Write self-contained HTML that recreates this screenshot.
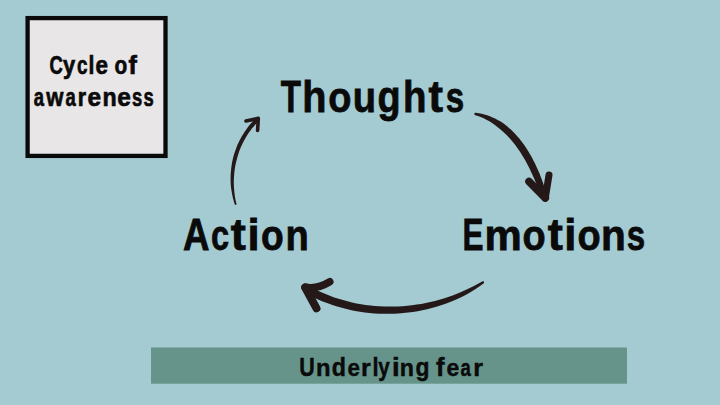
<!DOCTYPE html>
<html><head><meta charset="utf-8">
<style>
html,body{margin:0;padding:0;}
body{width:720px;height:405px;position:relative;overflow:hidden;background:#a4cad2;}
svg{position:absolute;left:0;top:0;}
text{font-family:"Liberation Sans",sans-serif;font-weight:bold;}
</style></head><body>
<svg width="720" height="405" viewBox="0 0 720 405">
<rect x="27.6" y="18.1" width="137.9" height="137.8" fill="#e8e6e7" stroke="#0a0a0a" stroke-width="4.3"/>
<rect x="151" y="347.5" width="476" height="36.2" fill="#66948b"/>
<g font-size="45" fill="#0a0a0a" stroke="#0a0a0a" stroke-width="0.8"><text transform="translate(280.63 111.90) scale(0.736 1.000)">T</text><text transform="translate(302.23 111.90) scale(0.881 1.000)">h</text><text transform="translate(328.22 111.90) scale(0.843 0.960)">o</text><text transform="translate(352.64 111.90) scale(0.847 0.960)">u</text><text transform="translate(377.55 111.90) scale(0.840 1.000)">g</text><text transform="translate(402.92 111.90) scale(0.854 1.000)">h</text><text transform="translate(428.47 111.90) scale(0.965 1.000)">t</text><text transform="translate(445.74 111.90) scale(0.736 0.960)">s</text></g>
<g font-size="45" fill="#0a0a0a" stroke="#0a0a0a" stroke-width="0.8"><text transform="translate(462.61 249.90) scale(0.700 1.000)">E</text><text transform="translate(484.44 249.90) scale(0.931 0.955)">m</text><text transform="translate(522.62 249.90) scale(0.843 0.955)">o</text><text transform="translate(547.65 249.90) scale(1.008 1.000)">t</text><text transform="translate(564.25 249.90) scale(0.972 1.000)">i</text><text transform="translate(577.52 249.90) scale(0.843 0.955)">o</text><text transform="translate(601.02 249.90) scale(0.902 0.955)">n</text><text transform="translate(626.64 249.90) scale(0.736 0.955)">s</text></g>
<g font-size="45" fill="#0a0a0a" stroke="#0a0a0a" stroke-width="0.8"><text transform="translate(183.09 250.00) scale(0.815 1.000)">A</text><text transform="translate(210.93 250.00) scale(0.724 0.960)">c</text><text transform="translate(230.75 250.00) scale(1.008 1.000)">t</text><text transform="translate(247.55 250.00) scale(0.972 1.000)">i</text><text transform="translate(260.95 250.00) scale(0.826 0.960)">o</text><text transform="translate(285.39 250.00) scale(0.847 0.960)">n</text></g>
<g font-size="26.3" fill="#0a0a0a" stroke="#0a0a0a" stroke-width="0.7"><text transform="translate(49.48 74.00) scale(0.700 1.000)">C</text><text transform="translate(62.98 74.00) scale(0.833 1.000)">y</text><text transform="translate(77.01 74.00) scale(0.717 0.960)">c</text><text transform="translate(88.47 74.00) scale(0.804 1.000)">l</text><text transform="translate(95.38 74.00) scale(0.850 0.960)">e</text><text transform="translate(114.44 74.00) scale(0.792 0.960)">o</text><text transform="translate(128.62 74.00) scale(0.957 1.000)">f</text></g>
<g font-size="26.3" fill="#0a0a0a" stroke="#0a0a0a" stroke-width="0.7"><text transform="translate(33.80 105.70) scale(0.700 0.960)">a</text><text transform="translate(46.21 105.70) scale(0.840 0.960)">w</text><text transform="translate(65.40 105.70) scale(0.700 0.960)">a</text><text transform="translate(77.64 105.70) scale(0.814 0.960)">r</text><text transform="translate(87.50 105.70) scale(0.929 0.960)">e</text><text transform="translate(102.62 105.70) scale(0.882 0.960)">n</text><text transform="translate(117.20 105.70) scale(0.929 0.960)">e</text><text transform="translate(132.03 105.70) scale(0.700 0.960)">s</text><text transform="translate(143.48 105.70) scale(0.700 0.960)">s</text></g>
<g font-size="26.3" fill="#0a0a0a" stroke="#0a0a0a" stroke-width="0.5"><text transform="translate(299.26 376.30) scale(0.816 1.000)">U</text><text transform="translate(315.88 376.30) scale(0.905 0.930)">n</text><text transform="translate(331.80 376.30) scale(0.883 1.000)">d</text><text transform="translate(347.48 376.30) scale(0.850 0.930)">e</text><text transform="translate(361.10 376.30) scale(0.950 0.930)">r</text><text transform="translate(372.62 376.30) scale(0.831 1.000)">l</text><text transform="translate(378.19 376.30) scale(0.784 1.000)">y</text><text transform="translate(392.02 376.30) scale(1.053 1.000)">i</text><text transform="translate(399.72 376.30) scale(0.882 0.930)">n</text><text transform="translate(415.51 376.30) scale(0.869 1.000)">g</text><text transform="translate(436.11 376.30) scale(0.969 1.000)">f</text><text transform="translate(446.45 376.30) scale(0.874 0.930)">e</text><text transform="translate(460.61 376.30) scale(0.706 0.930)">a</text><text transform="translate(473.30 376.30) scale(0.950 0.930)">r</text></g>
<g fill="#251819">
<path d="M475.3 115.3 L478.0 116.1 L480.6 117.1 L483.1 118.1 L485.5 119.3 L487.9 120.5 L490.2 121.8 L492.4 123.3 L494.6 124.8 L496.7 126.4 L498.7 128.0 L500.8 129.7 L502.8 131.4 L504.7 133.2 L506.6 135.0 L508.5 137.0 L510.3 139.0 L512.0 141.0 L513.7 143.1 L515.4 145.3 L517.0 147.5 L518.6 149.7 L520.2 152.0 L521.7 154.4 L523.1 156.7 L524.5 159.1 L525.9 161.5 L527.2 164.0 L528.5 166.5 L529.8 169.0 L530.9 171.5 L532.1 174.0 L533.2 176.5 L534.3 179.0 L535.4 181.5 L536.4 184.0 L537.4 186.5 L538.3 189.0 L539.2 191.5 L540.1 194.0 L540.8 195.1 L541.9 195.9 L543.3 196.1 L544.6 195.7 L545.6 194.7 L546.1 193.4 L545.9 192.0 L545.2 189.5 L544.3 186.9 L543.5 184.3 L542.6 181.7 L541.6 179.1 L540.6 176.5 L539.6 173.8 L538.5 171.2 L537.3 168.5 L536.1 165.9 L534.9 163.3 L533.5 160.7 L532.2 158.1 L530.8 155.6 L529.3 153.0 L527.8 150.5 L526.2 148.1 L524.6 145.6 L522.9 143.2 L521.2 140.9 L519.3 138.6 L517.4 136.4 L515.5 134.3 L513.5 132.2 L511.4 130.1 L509.3 128.2 L507.1 126.3 L504.9 124.5 L502.6 122.8 L500.2 121.3 L497.7 119.9 L495.1 118.6 L492.5 117.4 L489.9 116.3 L487.2 115.3 L484.4 114.5 L481.6 113.8 L478.8 113.2 L475.9 112.7 L475.3 112.7 L474.8 113.0 L474.4 113.4 L474.3 114.0 L474.4 114.6 L474.8 115.0Z"/>
<path d="M482.1 281.4 L478.1 283.8 L473.9 286.0 L469.8 288.1 L465.5 290.1 L461.2 292.0 L456.9 293.7 L452.6 295.4 L448.2 297.0 L443.8 298.4 L439.3 299.8 L434.9 301.0 L430.3 302.1 L425.8 303.0 L421.2 303.9 L416.6 304.6 L412.0 305.3 L407.4 305.8 L402.7 306.2 L398.1 306.4 L393.5 306.6 L388.8 306.6 L384.2 306.5 L379.5 306.2 L374.9 305.9 L370.3 305.5 L365.7 304.9 L361.1 304.2 L356.5 303.4 L352.0 302.4 L347.5 301.3 L343.0 300.1 L338.6 298.8 L334.2 297.4 L329.9 295.8 L325.6 294.1 L321.3 292.3 L317.1 290.3 L313.0 288.2 L308.9 286.0 L307.2 285.5 L305.4 285.8 L304.0 286.9 L303.1 288.4 L303.1 290.2 L303.8 291.8 L305.1 293.0 L309.3 295.3 L313.7 297.5 L318.1 299.5 L322.6 301.4 L327.1 303.1 L331.7 304.8 L336.3 306.2 L340.9 307.6 L345.6 308.8 L350.4 309.9 L355.1 310.9 L359.9 311.7 L364.7 312.4 L369.5 313.0 L374.3 313.4 L379.1 313.7 L384.0 313.8 L388.8 313.8 L393.7 313.7 L398.5 313.5 L403.3 313.1 L408.1 312.6 L412.9 311.9 L417.7 311.2 L422.4 310.3 L427.1 309.2 L431.8 308.1 L436.4 306.7 L441.0 305.3 L445.6 303.7 L450.1 302.1 L454.5 300.2 L458.9 298.3 L463.2 296.2 L467.4 293.9 L471.6 291.5 L475.6 288.9 L479.6 286.3 L483.5 283.6 L483.9 283.2 L484.0 282.6 L484.0 282.1 L483.7 281.6 L483.2 281.3 L482.6 281.3Z"/>
<path d="M236.5 203.8 L235.9 201.5 L235.4 199.3 L235.0 197.0 L234.7 194.8 L234.4 192.5 L234.2 190.2 L234.0 187.9 L233.9 185.7 L233.8 183.4 L233.8 181.1 L233.9 178.8 L234.0 176.6 L234.2 174.3 L234.4 172.0 L234.7 169.8 L235.0 167.5 L235.4 165.3 L235.9 163.1 L236.4 160.9 L237.0 158.7 L237.6 156.5 L238.2 154.4 L238.9 152.2 L239.7 150.1 L240.5 148.0 L241.4 145.9 L242.3 143.9 L243.3 141.9 L244.4 139.9 L245.5 137.9 L246.7 136.0 L247.9 134.1 L249.1 132.2 L250.5 130.4 L251.8 128.6 L253.3 126.9 L254.8 125.2 L256.3 123.5 L257.9 121.9 L258.4 121.2 L258.5 120.3 L258.2 119.4 L257.6 118.8 L256.7 118.5 L255.8 118.6 L255.1 119.1 L253.4 120.8 L251.8 122.5 L250.2 124.3 L248.7 126.1 L247.3 128.0 L245.9 129.9 L244.5 131.9 L243.3 133.9 L242.0 135.9 L240.9 138.0 L239.8 140.1 L238.7 142.2 L237.7 144.3 L236.8 146.5 L236.0 148.7 L235.2 150.9 L234.4 153.2 L233.7 155.4 L233.1 157.7 L232.6 160.0 L232.1 162.3 L231.7 164.7 L231.4 167.0 L231.1 169.3 L230.9 171.7 L230.7 174.1 L230.6 176.4 L230.6 178.8 L230.6 181.1 L230.7 183.5 L230.9 185.9 L231.1 188.2 L231.5 190.5 L231.9 192.9 L232.3 195.2 L232.8 197.5 L233.4 199.7 L234.0 202.0 L234.7 204.2 L234.9 204.6 L235.2 204.8 L235.6 204.9 L236.0 204.8 L236.3 204.5 L236.5 204.2Z"/>
</g>
<g fill="none" stroke="#251819" stroke-linecap="round" stroke-linejoin="round">
<path d="M529 181.5 L545.3 198" stroke-width="7.6"/><path d="M545.3 198 L549 175" stroke-width="7"/>
<path d="M329.8 281.8 Q317 289.6 305.2 287.2" stroke-width="7.5"/><path d="M305.2 287.5 L316.5 308.3" stroke-width="8"/>
<path d="M246 121 L258.3 118.3 L257.6 130.5" stroke-width="3.6"/>
</g>
</svg>
</body></html>
